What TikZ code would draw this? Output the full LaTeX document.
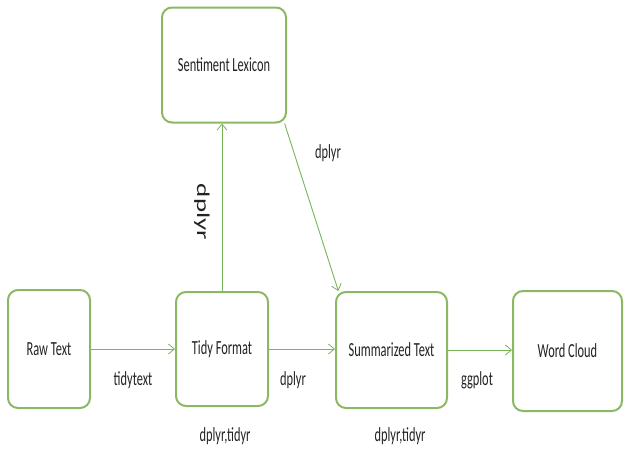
\documentclass[tikz,border=0pt]{standalone}
\usepackage{fontspec}
\setmainfont{Carlito}
\usetikzlibrary{arrows.meta}
\definecolor{boxgreen}{RGB}{140,184,100}
\definecolor{linegreen}{RGB}{120,180,90}
\definecolor{inkgray}{RGB}{35,35,35}
% condensed label text
\newcommand{\cond}[1]{\scalebox{0.62}[1]{#1}}
\tikzset{
  stage/.style={draw=boxgreen, line width=2pt, rounded corners=10pt, fill=white,
    text=inkgray, font=\fontsize{20}{22}\selectfont},
  flow/.style={draw=linegreen, line width=0.9pt,
    -{Straight Barb[length=6pt,width=10pt,line width=0.8pt]}},
  tag/.style={text=inkgray, font=\fontsize{20}{22}\selectfont, inner sep=0pt}
}
\begin{document}
\begin{tikzpicture}[x=1pt,y=-1pt]
\useasboundingbox (0,0) rectangle (627,455);

% processing stages
\node[stage, minimum width=82pt, minimum height=118pt] (raw)  at (49,349)    {\cond{Raw Text}};
\node[stage, minimum width=92pt, minimum height=114pt] (tidy) at (222,349)   {\cond{Tidy Format}};
\node[stage, minimum width=111pt, minimum height=116pt] (summ) at (391.5,350) {\cond{Summarized Text}};
\node[stage, minimum width=109pt, minimum height=120pt] (word) at (567.5,351) {\cond{Word Cloud}};
\node[stage, minimum width=124pt, minimum height=115pt] (sent) at (224,65)    {\cond{Sentiment Lexicon}};

% connectors
\draw[flow] (raw.east) -- (tidy.west);
\draw[flow] (tidy.east) -- (tidy.east -| summ.west);
\draw[flow] (summ.east) -- (summ.east -| word.west);
\draw[flow] (tidy.north) -- (tidy.north |- sent.south);
\draw[flow] (sent.-44) -- (summ.132);

% package labels
\node[tag] (ltidytext) at (133,380) {\cond{tidytext}};
\node[tag] (ldplyrA)   at (293,380) {\cond{dplyr}};
\node[tag] (lggplot)   at (477,380) {\cond{ggplot}};
\node[tag] (ldtA)      at (225,436) {\cond{dplyr,tidyr}};
\node[tag] (ldtB)      at (400,436) {\cond{dplyr,tidyr}};
\node[tag] (ldplyrB)   at (328,153) {\cond{dplyr}};
\node[tag, rotate=-90, font=\fontsize{18}{20}\selectfont] (ldplyrC) at (202,212) {\scalebox{1.5}[1]{dplyr}};
\end{tikzpicture}
\end{document}
